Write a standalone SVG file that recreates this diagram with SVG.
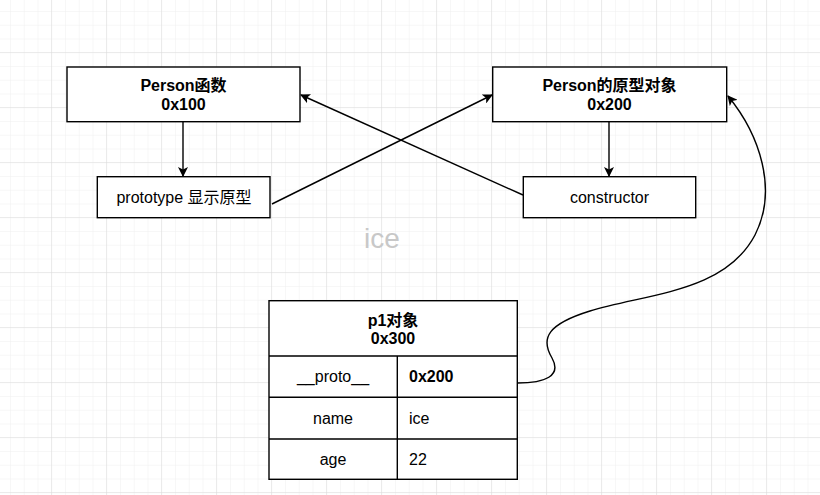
<svg xmlns="http://www.w3.org/2000/svg" width="820" height="495" viewBox="0 0 820 495">
<defs>
<pattern id="minor" x="-2.75" y="-1.75" width="13.75" height="13.75" patternUnits="userSpaceOnUse">
<path d="M13.75 0V13.75M0 13.75H13.75" fill="none" stroke="#f0f0f0" stroke-width="1"/>
</pattern>
<pattern id="major" x="-3" y="-2" width="55" height="55" patternUnits="userSpaceOnUse">
<path d="M55 0V55M0 55H55" fill="none" stroke="#dcdcdc" stroke-width="1"/>
</pattern>
<marker id="arr" viewBox="0 0 10 10" refX="9" refY="5" markerWidth="10" markerHeight="10" markerUnits="userSpaceOnUse" orient="auto">
<path d="M0,0 L10,5 L0,10 L2.5,5 Z" fill="#000"/>
</marker>
<style>
.box{fill:#fff;stroke:#000;stroke-width:1.4}
.ln{fill:none;stroke:#000;stroke-width:1.4}
.t{font-family:"Liberation Sans","Noto Sans CJK SC",sans-serif;font-size:16px;fill:#000}
.b{font-weight:bold}
.c{text-anchor:middle}
.conn{fill:none;stroke:#000;stroke-width:1.4;marker-end:url(#arr)}
</style>
</defs>
<rect width="820" height="495" fill="#fff"/>
<rect width="820" height="495" fill="url(#minor)"/>
<rect width="820" height="495" fill="url(#major)"/>

<text x="382" y="248" font-family="Liberation Sans, sans-serif" font-size="28" fill="#c8c8c8" text-anchor="middle">ice</text>

<g id="connectors">
<path class="conn" d="M183,121.7 V176"/>
<path class="conn" d="M609,121.7 V176"/>
<path class="conn" d="M272,204 L492,95"/>
<path class="conn" d="M523,195 L301,95"/>
<path class="conn" d="M517.5,383 C545,383 562,376 552,358 C540,338 548,324 590,311 C650,293 725,292 755,235 C778,190 760,135 728,96"/>
</g>

<g id="person-fn">
<rect class="box" x="67" y="67" width="233" height="54.7"/>
<text class="t b c" x="183.5" y="90.5">Person函数</text>
<text class="t b c" x="183.5" y="109.5">0x100</text>
</g>

<g id="person-proto">
<rect class="box" x="492.7" y="67" width="234" height="54.7"/>
<text class="t b c" x="609.5" y="90.5">Person的原型对象</text>
<text class="t b c" x="609.5" y="109.5">0x200</text>
</g>

<g id="prototype">
<rect class="box" x="97.3" y="176.7" width="172.7" height="41"/>
<text class="t c" x="184" y="203">prototype 显示原型</text>
</g>

<g id="constructor">
<rect class="box" x="523.3" y="176.7" width="172.4" height="41"/>
<text class="t c" x="609.5" y="203">constructor</text>
</g>

<g id="p1">
<rect class="box" x="269" y="300.7" width="248.3" height="178.6"/>
<path class="ln" d="M269,356 H517.3 M269,397.3 H517.3 M269,439 H517.3 M397.3,356 V479.3"/>
<text class="t b c" x="393" y="325.7">p1对象</text>
<text class="t b c" x="393" y="343.5">0x300</text>
<text class="t c" x="333" y="382">__proto__</text>
<text class="t b" x="409" y="382">0x200</text>
<text class="t c" x="333" y="423.5">name</text>
<text class="t" x="409" y="423.5">ice</text>
<text class="t c" x="333" y="464.5">age</text>
<text class="t" x="409" y="464.5">22</text>
</g>
</svg>
